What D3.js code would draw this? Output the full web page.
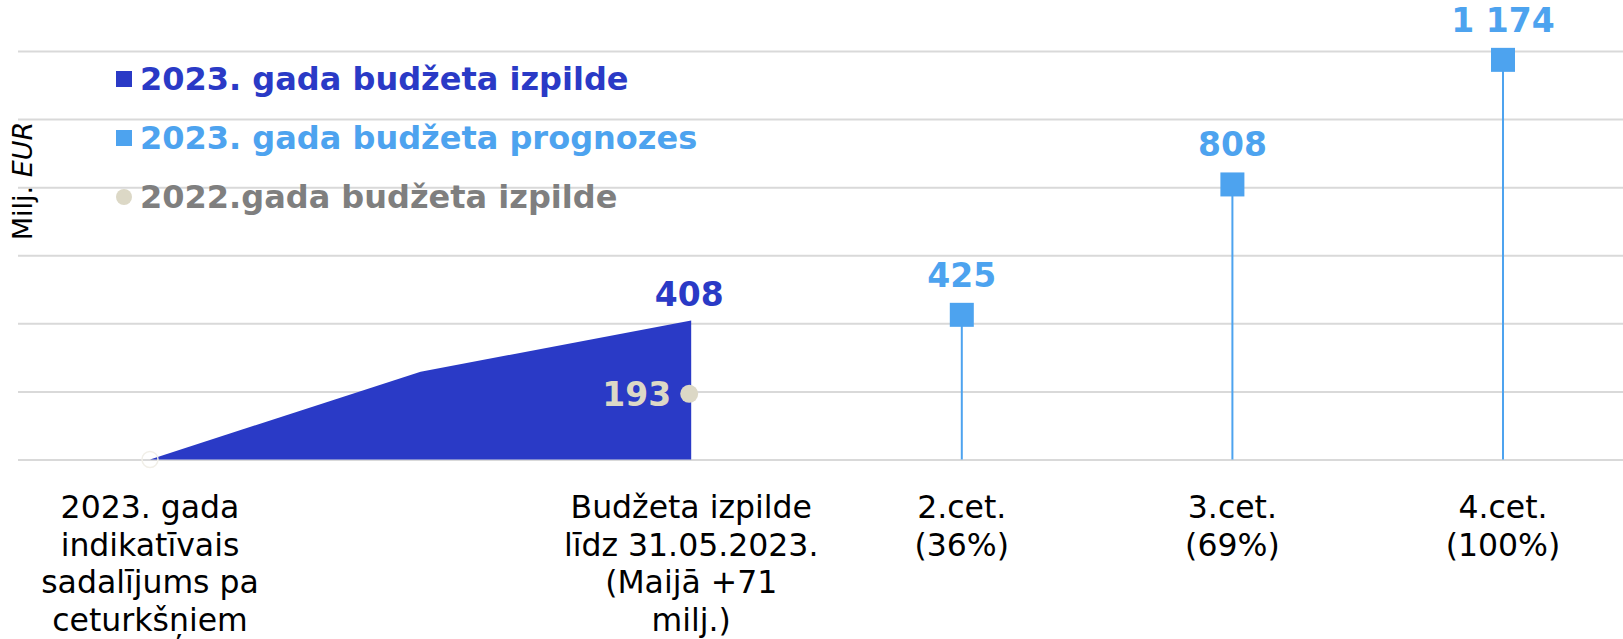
<!DOCTYPE html>
<html>
<head>
<meta charset="utf-8">
<script src="https://cdn.jsdelivr.net/npm/d3@7"></script>
<style>
  body { margin: 0; background: #fff; }
  svg { font-family: "DejaVu Sans", Verdana, sans-serif; }
</style>
</head>
<body>
<div id="chart"></div>
<script>
// categories (line-broken as in the original) and series
const categories = [
  ["2023. gada", "indikatīvais", "sadalījums pa", "ceturkšņiem"],
  [],
  ["Budžeta izpilde", "līdz 31.05.2023.", "(Maijā +71", "milj.)"],
  ["2.cet.", "(36%)"],
  ["3.cet.", "(69%)"],
  ["4.cet.", "(100%)"]
];
const execution2023 = [0, 258, 408, null, null, null];
const forecast2023 = [null, null, null, 425, 808, 1174];
const execution2022 = [0, null, 193, null, null, null];
const yTicks = [0, 200, 400, 600, 800, 1000, 1200];
const legendItems = [
  {name: "2023. gada budžeta izpilde", color: "#2a3ac6", text: "#2a3ac6", shape: "square"},
  {name: "2023. gada budžeta prognozes", color: "#4da3ef", text: "#4da3ef", shape: "square"},
  {name: "2022.gada budžeta izpilde", color: "#dcd8c6", text: "#7f7f7f", shape: "circle"}
];

const width = 1623, height = 639;
const svg = d3.select("#chart").append("svg")
  .attr("width", width).attr("height", height);

const keys = categories.map((c, i) => i);
const x = d3.scalePoint().domain(keys).range([150, 1503]);
const y = d3.scaleLinear().domain([0, 1200]).range([459.5, 51]);

// gridlines
svg.append("g").attr("transform", "translate(18,0)")
  .call(d3.axisLeft(y).tickValues(yTicks).tickSize(-(width - 18)).tickFormat(""))
  .call(g => g.select(".domain").remove())
  .call(g => g.selectAll("line").attr("stroke", "#d9d9d9").attr("stroke-width", 2));

// y title
const yt = svg.append("text")
  .attr("transform", "translate(32,181) rotate(-90)")
  .attr("text-anchor", "middle")
  .style("font-size", "27px").attr("fill", "#000");
yt.append("tspan").text("Milj. ");
yt.append("tspan").style("font-style", "italic").text("EUR");

// 2023 execution area
const areaData = keys.filter(i => execution2023[i] != null);
svg.append("path")
  .datum(areaData)
  .attr("fill", "#2a3ac6")
  .attr("d", d3.area().x(i => x(i)).y0(y(0)).y1(i => y(execution2023[i])));

svg.append("text")
  .attr("x", x(2) - 2).attr("y", 306)
  .attr("text-anchor", "middle")
  .style("font-size", "33px").style("font-weight", "bold")
  .attr("fill", "#2a3ac6").text(execution2023[2]);

// 2022 execution points
keys.filter(i => execution2022[i] != null).forEach(i => {
  const v = execution2022[i];
  if (v === 0) {
    svg.append("circle").attr("cx", x(i)).attr("cy", y(v)).attr("r", 8)
      .attr("fill", "none").attr("stroke", "#f1efe8").attr("stroke-width", 1.5);
  } else {
    svg.append("circle").attr("cx", x(i) - 2).attr("cy", y(v)).attr("r", 9)
      .attr("fill", "#dcd8c6");
    svg.append("text").attr("x", x(i) - 20).attr("y", y(v) + 1)
      .attr("text-anchor", "end").attr("dominant-baseline", "central")
      .style("font-size", "33px").style("font-weight", "bold")
      .attr("fill", "#dcd8c6").text(v);
  }
});

// forecast stems + markers
const fmt = v => d3.format(",")(v).replace(/,/g, " ");
const fc = keys.filter(i => forecast2023[i] != null);
const fg = svg.append("g");
fg.selectAll("line").data(fc).join("line")
  .attr("x1", i => x(i)).attr("x2", i => x(i))
  .attr("y1", i => y(forecast2023[i])).attr("y2", y(0))
  .attr("stroke", "#4da3ef").attr("stroke-width", 2);
fg.selectAll("rect").data(fc).join("rect")
  .attr("x", i => x(i) - 12).attr("y", i => y(forecast2023[i]) - 12)
  .attr("width", 24).attr("height", 24).attr("fill", "#4da3ef");
fg.selectAll("text").data(fc).join("text")
  .attr("x", i => x(i)).attr("y", i => y(forecast2023[i]) - 28)
  .attr("text-anchor", "middle")
  .style("font-size", "33px").style("font-weight", "bold")
  .attr("fill", "#4da3ef").text(i => fmt(forecast2023[i]));

// category labels
keys.forEach(i => {
  const t = svg.append("text").attr("x", x(i)).attr("y", 518)
    .attr("text-anchor", "middle").style("font-size", "31.5px").attr("fill", "#000");
  categories[i].forEach((line, k) => {
    t.append("tspan").attr("x", x(i)).attr("dy", k === 0 ? 0 : 37.5).text(line);
  });
});

// legend
const lg = svg.append("g");
legendItems.forEach((d, k) => {
  const cy = 79 + k * 59;
  if (d.shape === "square") {
    lg.append("rect").attr("x", 116).attr("y", cy - 8).attr("width", 16).attr("height", 16).attr("fill", d.color);
  } else {
    lg.append("circle").attr("cx", 124).attr("cy", cy).attr("r", 8).attr("fill", d.color);
  }
  lg.append("text").attr("x", 140).attr("y", cy).attr("dominant-baseline", "central")
    .style("font-size", "32px").style("font-weight", "bold")
    .attr("fill", d.text).text(d.name);
});
</script>
</body>
</html>
